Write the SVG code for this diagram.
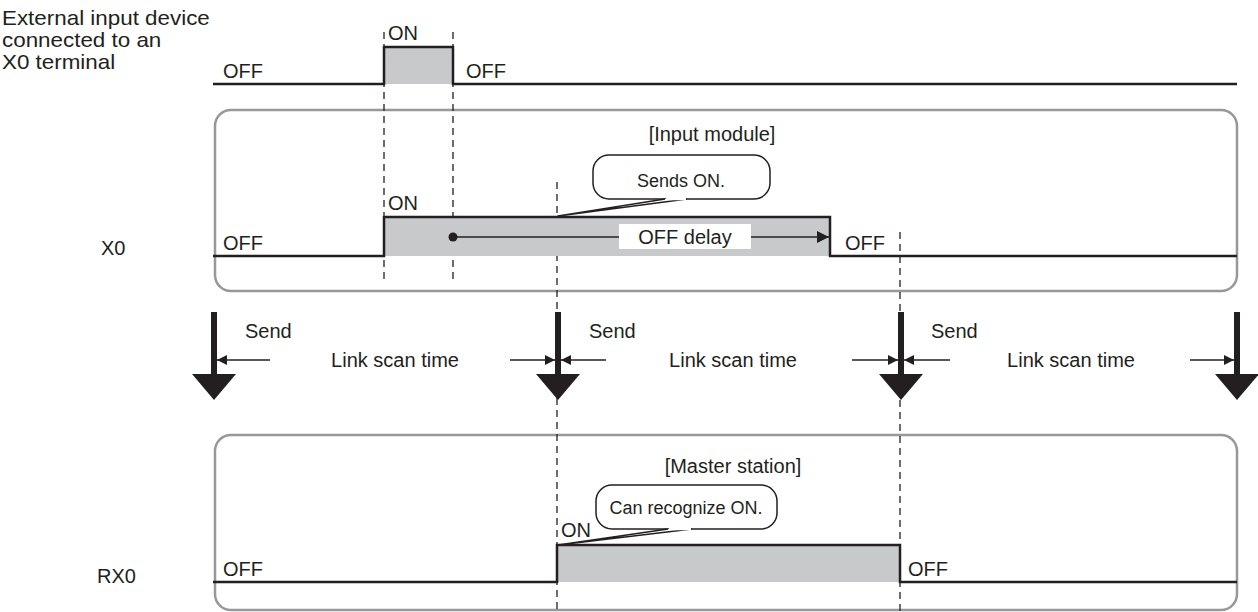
<svg xmlns="http://www.w3.org/2000/svg" width="1258" height="612" viewBox="0 0 1258 612">
<defs>
<style>
.t{font-family:"Liberation Sans",Arial,sans-serif;font-size:20px;fill:#231f20}
.s{font-family:"Liberation Sans",Arial,sans-serif;font-size:18px;fill:#231f20}
.panel{fill:none;stroke:#98989b;stroke-width:2.5}
.wave{fill:none;stroke:#231f20;stroke-width:2.5}
.hi{fill:#c8c9cb;stroke:none}
.dash{stroke:#231f20;stroke-width:1.3;stroke-dasharray:7 5;fill:none}
.thin{stroke:#231f20;stroke-width:1.3;fill:none}
.bub{fill:#fff;stroke:#231f20;stroke-width:1.5}
.shaft{fill:#231f20}
</style>
<marker id="ah" viewBox="0 0 10 10" refX="10" refY="5" markerWidth="10" markerHeight="10" markerUnits="userSpaceOnUse" orient="auto">
<path d="M0,0 L10,5 L0,10 z" fill="#231f20"/>
</marker>
<marker id="ah2" viewBox="0 0 10 10" refX="10" refY="5" markerWidth="14" markerHeight="12" markerUnits="userSpaceOnUse" orient="auto">
<path d="M0,0 L10,5 L0,10 z" fill="#231f20"/>
</marker>
</defs>

<g id="panels">
<rect id="input-module-panel" class="panel" x="215" y="110" width="1022" height="181" rx="16"/>
<rect id="master-station-panel" class="panel" x="215" y="435" width="1022" height="175" rx="16"/>
</g>

<g id="external-input">
<text class="t" transform="translate(2 25) scale(1.12 1)">External input device</text>
<text class="t" transform="translate(2 47) scale(1.12 1)">connected to an</text>
<text class="t" transform="translate(2 69) scale(1.12 1)">X0 terminal</text>
<rect class="hi" x="384" y="47" width="69" height="37"/>
<path class="wave" d="M213,84 H384 V47 H453 V84 H1237"/>
<text class="t" x="223" y="78">OFF</text>
<text class="t" x="388" y="40">ON</text>
<text class="t" x="466" y="78">OFF</text>
</g>

<g id="connectors">
<line class="dash" x1="384" y1="32" x2="384" y2="282"/>
<line class="dash" x1="453" y1="32" x2="453" y2="282"/>
<line class="dash" x1="557" y1="182" x2="557" y2="612"/>
<line class="dash" x1="900" y1="232" x2="900" y2="612"/>
</g>

<g id="input-module">
<text class="t" x="712" y="141" text-anchor="middle">[Input module]</text>
<text class="t" x="101" y="255">X0</text>
<rect class="hi" x="384" y="217" width="446" height="39"/>
<path class="wave" d="M213,256 H384 V217 H830 V256 H1237"/>
<text class="t" x="388" y="210">ON</text>
<text class="t" x="223" y="250">OFF</text>
<text class="t" x="845" y="250">OFF</text>
<line class="thin" x1="453" y1="237" x2="829" y2="237" marker-end="url(#ah2)"/>
<circle cx="453" cy="237" r="4.5" fill="#231f20"/>
<rect x="619" y="224" width="132" height="25" fill="#fff"/>
<text class="t" x="685" y="244" text-anchor="middle">OFF delay</text>
</g>

<g id="callout-sends-on">
<rect class="bub" x="593" y="155" width="177" height="44" rx="16"/>
<path d="M665,199 L558,216 L687,199" fill="#fff" stroke="#231f20" stroke-width="1.5" stroke-linejoin="round"/>
<line x1="666" y1="199" x2="686" y2="199" stroke="#fff" stroke-width="2.5"/>
<text class="s" x="681" y="187" text-anchor="middle">Sends ON.</text>
</g>

<g id="send-arrows">
<rect class="shaft" x="211" y="312" width="6" height="64"/>
<path class="shaft" d="M192,374 H236 L214,400 z"/>
<rect class="shaft" x="555" y="312" width="6" height="64"/>
<path class="shaft" d="M536,374 H580 L558,400 z"/>
<rect class="shaft" x="898" y="312" width="6" height="64"/>
<path class="shaft" d="M879,374 H923 L901,400 z"/>
<rect class="shaft" x="1234" y="312" width="6" height="64"/>
<path class="shaft" d="M1215,374 H1259 L1237,400 z"/>
<text class="t" x="245" y="338">Send</text>
<text class="t" x="589" y="338">Send</text>
<text class="t" x="931" y="338">Send</text>
</g>

<g id="link-scan-times">
<line class="thin" x1="270" y1="360" x2="217" y2="360" marker-end="url(#ah)"/>
<line class="thin" x1="510" y1="360" x2="555" y2="360" marker-end="url(#ah)"/>
<text class="t" x="395" y="367" text-anchor="middle">Link scan time</text>
<line class="thin" x1="606" y1="360" x2="561" y2="360" marker-end="url(#ah)"/>
<line class="thin" x1="852" y1="360" x2="898" y2="360" marker-end="url(#ah)"/>
<text class="t" x="733" y="367" text-anchor="middle">Link scan time</text>
<line class="thin" x1="950" y1="360" x2="904" y2="360" marker-end="url(#ah)"/>
<line class="thin" x1="1190" y1="360" x2="1234" y2="360" marker-end="url(#ah)"/>
<text class="t" x="1071" y="367" text-anchor="middle">Link scan time</text>
</g>

<g id="master-station">
<text class="t" x="733" y="473" text-anchor="middle">[Master station]</text>
<text class="t" x="97" y="583">RX0</text>
<rect class="hi" x="557" y="545" width="343" height="37"/>
<path class="wave" d="M213,582 H557 V545 H900 V582 H1237"/>
<text class="t" x="561" y="537">ON</text>
<text class="t" x="223" y="576">OFF</text>
<text class="t" x="908" y="576">OFF</text>
</g>

<g id="callout-can-recognize">
<rect class="bub" x="596" y="485" width="181" height="44" rx="16"/>
<path d="M668,529 L558,545 L692,529" fill="#fff" stroke="#231f20" stroke-width="1.5" stroke-linejoin="round"/>
<line x1="669" y1="529" x2="691" y2="529" stroke="#fff" stroke-width="2.5"/>
<text class="s" x="686" y="514" text-anchor="middle">Can recognize ON.</text>
</g>
</svg>
